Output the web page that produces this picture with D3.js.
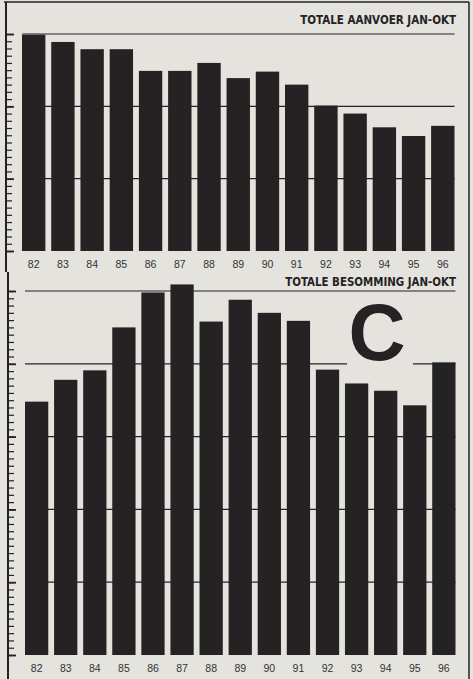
<!DOCTYPE html>
<html>
<head>
<meta charset="utf-8">
<script src="https://cdn.jsdelivr.net/npm/d3@7"></script>
<style>
  body { margin: 0; background: #e4e3de; }
  svg { display: block; }
</style>
</head>
<body>
<svg id="chart"></svg>
<script>
const width = 473;
const height = 679;

// jaren
const years = ["82","83","84","85","86","87","88","89","90","91","92","93","94","95","96"];
// totale aanvoer jan-okt (geschat van de afbeelding)
const aanvoer = [29.9, 28.9, 27.9, 27.9, 24.9, 24.9, 26.0, 23.9, 24.8, 23.0, 20.1, 19.0, 17.1, 15.9, 17.3];
// totale besomming jan-okt
const besomming = [34.8, 37.8, 39.1, 45.0, 49.8, 50.9, 45.8, 48.8, 47.0, 45.9, 39.2, 37.3, 36.3, 34.3, 40.2];

const topTicks = [0, 10, 20, 30];
const bottomTicks = [0, 10, 20, 30, 40, 50];

const bg = "#e4e3de";
const ink = "#242223";

const svg = d3.select("#chart")
    .attr("width", width)
    .attr("height", height);

svg.append("rect").attr("width", width).attr("height", height).attr("fill", bg);

// kader
svg.append("line").attr("x1", 4).attr("x2", 469).attr("y1", 2).attr("y2", 2)
    .attr("stroke", ink).attr("stroke-width", 1.5);
svg.append("line").attr("x1", 469).attr("x2", 469).attr("y1", 2).attr("y2", height)
    .attr("stroke", ink).attr("stroke-width", 1.5);

function drawPanel(cfg) {
    const g = svg.append("g");

    const x = d3.scaleBand()
        .domain(years)
        .range([cfg.left, cfg.right])
        .paddingInner(0.2)
        .paddingOuter(0);

    const y = d3.scaleLinear()
        .domain([0, cfg.max])
        .range([cfg.base, cfg.top]);

    // rasterlijnen
    g.selectAll(".grid")
        .data(cfg.ticks.filter(d => d > 0))
        .enter()
        .append("line")
        .attr("class", "grid")
        .attr("x1", cfg.left)
        .attr("x2", cfg.right)
        .attr("y1", d => y(d))
        .attr("y2", d => y(d))
        .attr("stroke", ink)
        .attr("stroke-width", 1.2);

    // as links
    g.append("line")
        .attr("x1", cfg.axisX).attr("x2", cfg.axisX)
        .attr("y1", cfg.axisY1).attr("y2", cfg.axisY2)
        .attr("stroke", ink).attr("stroke-width", 2);

    const minor = g.append("g")
        .attr("transform", `translate(${cfg.axisX},0)`)
        .call(d3.axisRight(y).tickValues(d3.range(0, cfg.max + 1)).tickSize(6).tickFormat(""));
    minor.select(".domain").remove();
    minor.selectAll("line").attr("stroke", ink).attr("stroke-width", 1.2);

    const major = g.append("g")
        .attr("transform", `translate(${cfg.axisX},0)`)
        .call(d3.axisRight(y).tickValues(cfg.ticks).tickSize(8).tickFormat(""));
    major.select(".domain").remove();
    major.selectAll("line").attr("stroke", ink).attr("stroke-width", 1.8);

    // logo achter de balken
    if (cfg.logo) {
        g.append("rect")
            .attr("x", 347).attr("y", 298).attr("width", 66).attr("height", 68)
            .attr("fill", bg);
        g.append("text")
            .attr("x", 377).attr("y", 360)
            .attr("text-anchor", "middle")
            .attr("font-family", "Liberation Sans, Arial, sans-serif")
            .attr("font-weight", "bold")
            .attr("font-size", 79)
            .attr("fill", ink)
            .text("C");
    }

    // balken
    g.selectAll(".bar")
        .data(cfg.values)
        .enter()
        .append("rect")
        .attr("class", "bar")
        .attr("x", (d, i) => x(years[i]))
        .attr("width", x.bandwidth())
        .attr("y", d => y(d))
        .attr("height", d => y(0) - y(d))
        .attr("fill", ink);

    // jaartallen
    const xAxis = g.append("g")
        .attr("transform", `translate(0,${cfg.base + 7})`)
        .call(d3.axisBottom(x).tickSize(0));
    xAxis.select(".domain").remove();
    xAxis.selectAll("text")
        .attr("font-family", "Liberation Sans, Arial, sans-serif")
        .attr("font-size", 10.5)
        .attr("fill", "#333");

    // titel, lettergrootte aangepast aan de breedte
    const title = g.append("text")
        .attr("x", cfg.titleX2)
        .attr("y", cfg.titleY)
        .attr("text-anchor", "end")
        .attr("font-family", "Liberation Sans Narrow, DejaVu Sans Condensed, sans-serif")
        .attr("font-weight", "bold")
        .attr("font-size", 13.5)
        .attr("fill", ink)
        .text(cfg.title);
    const len = title.node().getComputedTextLength();
    if (len > 0) title.attr("font-size", 13.5 * cfg.titleW / len);
}

drawPanel({
    values: aanvoer, max: 30, ticks: topTicks,
    left: 22, right: 454.5, base: 251, top: 34,
    axisX: 6, axisY1: 2, axisY2: 272,
    title: "TOTALE AANVOER JAN-OKT", titleX2: 456, titleY: 23.5, titleW: 156
});

drawPanel({
    values: besomming, max: 50, ticks: bottomTicks,
    left: 25, right: 455.5, base: 655, top: 291,
    axisX: 8, axisY1: 272, axisY2: height,
    title: "TOTALE BESOMMING JAN-OKT", titleX2: 456, titleY: 285.5, titleW: 171,
    logo: true
});
</script>
</body>
</html>
